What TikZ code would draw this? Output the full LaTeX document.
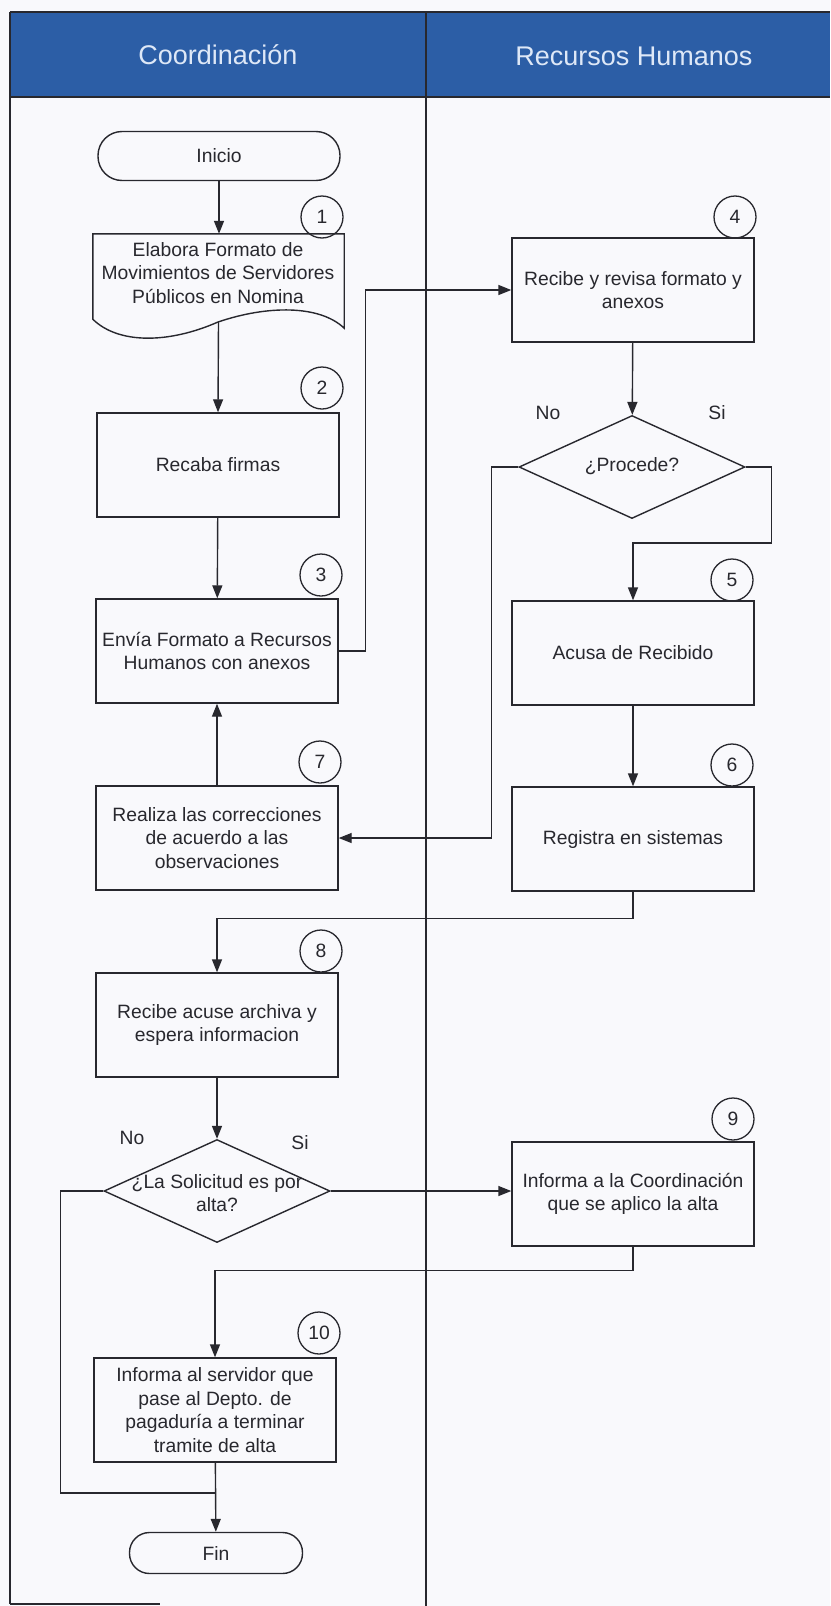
\documentclass[tikz,border=0pt]{standalone}
\usepackage{fontspec}
\setmainfont{Liberation Sans}
\usetikzlibrary{shapes.geometric,arrows.meta,calc}
\definecolor{hdr}{RGB}{44,94,166}
\definecolor{hdrtxt}{RGB}{222,232,247}
\definecolor{ln}{RGB}{40,40,46}
\definecolor{bg}{RGB}{249,249,252}
\begin{document}
\begin{tikzpicture}[x=1pt,y=-1pt,
  every node/.style={font=\fontsize{19.3}{23.5}\selectfont, text=ln, inner sep=0pt, align=center},
  stepbox/.style={draw=ln, line width=1.4pt, minimum width=242pt, minimum height=104pt},
  num/.style={draw=ln, circle, line width=1.3pt, minimum size=42pt},
  term/.style={draw=ln, line width=1.4pt},
  dia/.style={draw=ln, diamond, line width=1.4pt, minimum width=226pt, minimum height=103pt},
  hdrtext/.style={font=\fontsize{27}{32}\selectfont, text=hdrtxt},
  tbl/.style={draw=ln, line width=1.4pt},
  conn/.style={draw=ln, line width=1.4pt},
  arr/.style={conn, -{Triangle[length=13pt,width=10pt]}}]
\useasboundingbox (0,0) rectangle (830,1606);
\fill[bg] (0,0) rectangle (830,1606);
% header
\fill[hdr] (10,12) rectangle (830,97);
\draw[tbl] (10,12) -- (830,12);
\draw[tbl] (10,97) -- (830,97);
\draw[tbl] (10,12) -- (10,1604);
\draw[tbl] (426,12) -- (426,1606);
\draw[tbl] (10,1604) -- (160,1604);
\node[hdrtext] (h1) at (218,55) {Coordinación};
\node[hdrtext] (h2) at (634,56) {Recursos Humanos};
% left column
\node[term, minimum width=242pt, minimum height=49pt, rounded corners=24pt] (ini) at (219,156) {Inicio};
\node[num] (n1) at (322,217) {1};
\node[minimum width=251pt, minimum height=92pt] (b1) at (218.5,280) {};
\draw[conn] (b1.north west) -- (b1.north east) -- ($(b1.south east)+(0,2)$)
  .. controls (320,305) and (268,305) .. (218,322)
  .. controls (168,344) and (118,344) .. ($(b1.south west)+(0,-7)$) -- cycle;
\node (b1t) at (218,273) {Elabora Formato de\\Movimientos de Servidores\\Públicos en Nomina};
\node[num] (n2) at (322,388) {2};
\node[stepbox] (b2) at (218,465) {Recaba firmas};
\node[num] (n3) at (321,575) {3};
\node[stepbox] (b3) at (217,651) {Envía Formato a Recursos\\Humanos con anexos};
\node[num] (n7) at (320,762) {7};
\node[stepbox] (b7) at (217,838) {Realiza las correcciones\\de acuerdo a las\\observaciones};
\node[num] (n8) at (321,951) {8};
\node[stepbox] (b8) at (217,1025) {Recibe acuse archiva y\\espera informacion};
\node[dia] (d2) at (217,1191) {};
\node (d2t) at (217,1193) {¿La Solicitud es por\\alta?};
\node (no2) at (132,1138) {No};
\node (si2) at (300,1143) {Si};
\node[num] (n10) at (319,1333) {10};
\node[stepbox] (b10) at (215,1410) {Informa al servidor que\\pase al Depto. de\\pagaduría a terminar\\tramite de alta};
\node[term, minimum width=173pt, minimum height=41pt, rounded corners=20pt] (fin) at (216,1553) {Fin};
\coordinate (j) at (215,1493);
% right column
\node[num] (n4) at (735,217) {4};
\node[stepbox] (b4) at (633,290) {Recibe y revisa formato y\\anexos};
\node[dia] (d1) at (632,467) {};
\node (d1t) at (632,466) {¿Procede?};
\node (no1) at (548,413) {No};
\node (si1) at (717,413) {Si};
\node[num] (n5) at (732,580) {5};
\node[stepbox] (b5) at (633,653) {Acusa de Recibido};
\node[num] (n6) at (732,765) {6};
\node[stepbox] (b6) at (633,839) {Registra en sistemas};
\node[num] (n9) at (733,1119) {9};
\node[stepbox] (b9) at (633,1194) {Informa a la Coordinación\\que se aplico la alta};
% connectors
\draw[arr] (ini.south) -- (ini.south |- b1.north);
\draw[arr] ($(b1.south)+(0,-4)$) -- (b2.north);
\draw[arr] (b2) -- (b3);
\draw[arr] (b3.east) -- ++(27,0) |- (b4.west);
\draw[arr] (b4) -- (d1);
\draw[arr] (d1.east) -- ++(26,0) -- ++(0,76) -| (b5.north);
\draw[arr] (d1.west) -- ++(-27,0) |- (b7.east);
\draw[arr] (b7) -- (b3);
\draw[arr] (b5) -- (b6);
\draw[arr] (b6.south) -- ++(0,27) -| (b8.north);
\draw[arr] (b8) -- (d2);
\draw[arr] (d2.east) -- (d2.east -| b9.west);
\draw[arr] (b9.south) -- ++(0,24) -| (b10.north);
\draw[conn] (d2.west) -- ++(-43,0) |- (j);
\draw[arr] (b10) -- (fin);
\end{tikzpicture}
\end{document}
